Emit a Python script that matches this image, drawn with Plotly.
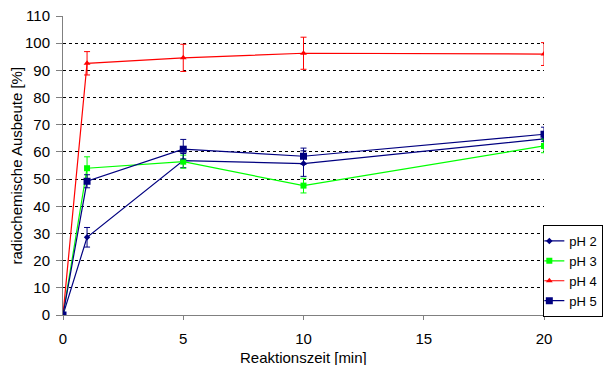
import plotly.graph_objects as go

time_min = [0, 1, 5, 10, 20]

ph2 = [0, 28.6, 56.8, 55.7, 64.8]
ph2_err = [0, 3.6, 2.6, 4.7, 2.2]

ph3 = [0, 54.0, 56.4, 47.6, 62.2]
ph3_err = [0, 4.2, 2.4, 2.7, 2.5]

ph4 = [0, 92.6, 94.6, 96.3, 96.0]
ph4_err = [0, 4.3, 5.0, 5.9, 4.2]

ph5 = [0, 49.2, 61.0, 58.4, 66.5]
ph5_err = [0, 2.4, 3.6, 3.0, 2.6]

x_title = "Reaktionszeit [min]"
y_title = "radiochemische Ausbeute [%]"

series = [
    ("pH 2", ph2, ph2_err, "#000080", "diamond", 5),
    ("pH 3", ph3, ph3_err, "#00FF00", "square", 6),
    ("pH 4", ph4, ph4_err, "#FF0000", "triangle-up", 6),
    ("pH 5", ph5, ph5_err, "#000080", "square", 7),
]

fig = go.Figure()
for name, ys, errs, color, sym, size in series:
    fig.add_trace(go.Scatter(
        x=time_min, y=ys, name=name, mode="lines+markers",
        line=dict(color=color, width=1.2),
        marker=dict(color=color, symbol=sym, size=size),
        error_y=dict(type="data", array=errs, visible=True,
                     color=color, thickness=1, width=3),
    ))

font = "Liberation Sans, Arial, sans-serif"
fs = 15
fig.update_layout(
    width=605, height=365,
    margin=dict(l=63, r=61, t=16, b=50, autoexpand=False),
    plot_bgcolor="white", paper_bgcolor="white",
    font=dict(family=font, size=fs, color="black"),
    showlegend=True,
    legend=dict(x=0.9986, y=0.301, xanchor="left", yanchor="top",
                bordercolor="black", borderwidth=1, bgcolor="white",
                font=dict(size=13), tracegroupgap=0, itemwidth=30,
                indentation=-15),
    xaxis=dict(range=[0, 20], tickvals=[0, 5, 10, 15, 20],
               showgrid=False, zeroline=False, automargin=False,
               showline=True, linecolor="#808080", linewidth=1,
               ticks="outside", ticklen=4, tickcolor="#808080",
               ticklabelstandoff=6,
               tickfont=dict(size=fs)),
    yaxis=dict(range=[0, 110], tickvals=list(range(0, 111, 10)),
               showgrid=True, gridcolor="black", gridwidth=1, griddash="3px,3px",
               zeroline=False, automargin=False,
               showline=True, linecolor="#808080", linewidth=1,
               ticks="outside", ticklen=6, tickcolor="#808080",
               ticklabelstandoff=3,
               tickfont=dict(size=fs)),
    annotations=[
        dict(text=x_title, xref="paper", yref="paper", x=0.5, y=0,
             xanchor="center", yanchor="middle", yshift=-42,
             showarrow=False, font=dict(size=fs)),
        dict(text=y_title, xref="paper", yref="paper", x=0, y=0.5,
             xanchor="center", yanchor="middle", xshift=-47, textangle=-90,
             showarrow=False, font=dict(size=fs)),
    ],
)

fig.write_html(
    "out.html",
    config={"displayModeBar": False},
    post_script="document.body.style.margin='0';document.body.style.overflow='hidden';",
)
